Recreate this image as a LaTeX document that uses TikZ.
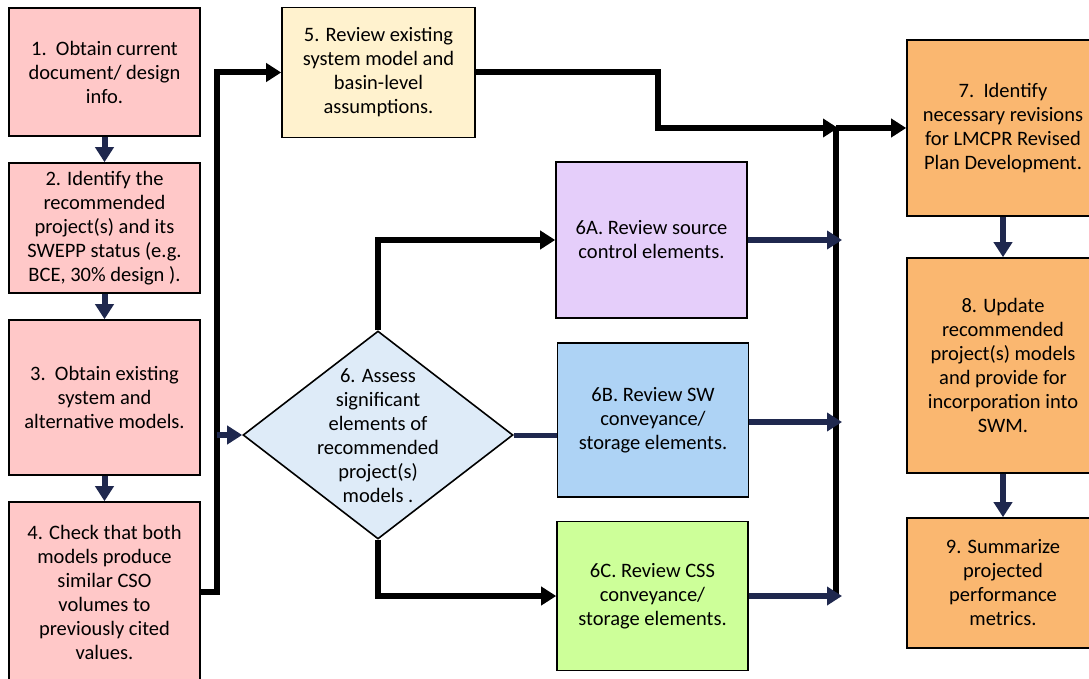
\documentclass[tikz,border=0pt]{standalone}
\usepackage{fontspec}
\setmainfont{Carlito}
\usetikzlibrary{arrows.meta,shapes.geometric,calc}
\definecolor{navy}{RGB}{31,40,78}
\definecolor{pinkbox}{RGB}{255,200,200}
\definecolor{creambox}{RGB}{255,242,206}
\definecolor{lavbox}{RGB}{229,206,250}
\definecolor{bluebox}{RGB}{174,211,245}
\definecolor{greenbox}{RGB}{205,255,153}
\definecolor{diabox}{RGB}{222,235,248}
\definecolor{orangebox}{RGB}{250,183,112}
\begin{document}
\begin{tikzpicture}[x=1pt,y=-1pt,
  txt/.style={align=center,font=\fontsize{20.5}{24}\selectfont,text=black},
  box/.style={txt,draw=black,line width=1.6pt,inner sep=0pt},
  blk/.style={draw=black,line width=6pt,-{Triangle[length=15pt,width=18pt]}},
  blkline/.style={draw=black,line width=6pt},
  nav/.style={draw=navy,line width=6pt,-{Triangle[length=15pt,width=18pt]}},
  navh/.style={draw=navy,line width=6pt,-{Triangle[length=15pt,width=18pt]}},
  navline/.style={draw=navy,line width=5pt}]
\clip (0,0) rectangle (1089,679);
\fill[white] (0,0) rectangle (1089,679);

% left column
\node[box,fill=pinkbox,minimum width=191pt,minimum height=128pt] (n1) at (104.5,72)
  {1.\ \ Obtain current\\document/ design\\info.};
\node[box,fill=pinkbox,minimum width=191pt,minimum height=130pt] (n2) at (104.5,228)
  {2. Identify the\\recommended\\project(s) and its\\SWEPP status (e.g.\\BCE, 30\% design ).};
\node[box,fill=pinkbox,minimum width=191pt,minimum height=155pt] (n3) at (104.5,397.5)
  {3.\ \ Obtain existing\\system and\\alternative models.};
\node[box,fill=pinkbox,minimum width=191pt,minimum height=180pt] (n4) at (104.5,592)
  {4. Check that both\\models produce\\similar CSO\\volumes to\\previously cited\\values.};

% step 5
\node[box,fill=creambox,minimum width=193pt,minimum height=130pt] (n5) at (378.5,72.5)
  {5. Review existing\\system model and\\basin-level\\assumptions.};

% diamond
\node[diamond,draw=black,line width=1.6pt,fill=diabox,minimum width=270pt,minimum height=208pt,inner sep=0pt] (d) at (378,435) {};
\node[txt] (dtext) at (378,436) {6. Assess\\significant\\elements of\\recommended\\project(s)\\models .};

% 6A-6C
\node[box,fill=lavbox,minimum width=191pt,minimum height=156pt] (a6) at (651.5,240)
  {6A. Review source\\control elements.};
\node[box,fill=bluebox,minimum width=191pt,minimum height=154pt] (b6) at (653,420)
  {6B. Review SW\\conveyance/\\storage elements.};
\node[box,fill=greenbox,minimum width=191pt,minimum height=149pt] (c6) at (652.5,596)
  {6C. Review CSS\\conveyance/\\storage elements.};

% right column
\node[box,fill=orangebox,minimum width=192pt,minimum height=176pt] (n7) at (1003,128)
  {7.\ \ Identify\\necessary revisions\\for LMCPR Revised\\Plan Development.};
\node[box,fill=orangebox,minimum width=192pt,minimum height=215pt] (n8) at (1003,365.5)
  {8. Update\\recommended\\project(s) models\\and provide for\\incorporation into\\SWM.};
\node[box,fill=orangebox,minimum width=192pt,minimum height=130pt] (n9) at (1003,583)
  {9. Summarize\\projected\\performance\\metrics.};

% coordinates
\coordinate (busL) at (217,435);
\coordinate (busR) at (836,128);
\coordinate (busRb) at (836,597);
\coordinate (k1) at (658,0);

% left column arrows
\draw[nav] (n1.south) -- (n2.north);
\draw[nav] (n2.south) -- (n3.north);
\draw[nav] (n3.south) -- (n4.north);

% left bus
\draw[blk] (n4.east) -| (busL |- n5.west) -- (n5.west);
\draw[navh] (busL) -- (d.west);

% diamond outputs
\draw[blk] (d.north) |- (a6.west);
\draw[blk] (d.south) |- (c6.west);
\draw[navline] (d.east) -- (d.east -| b6.west);

% right bus
\draw[blkline] (busR) -- (busRb);
\draw[navh,shorten >=-6pt] (a6.east) -- (a6.east -| busR);
\draw[navh,shorten >=-6pt] ($(b6.east)+(0,2)$) -- ($(b6.east -| busR)+(0,2)$);
\draw[navh,shorten >=-6pt] (c6.east) -- (c6.east -| busR);
\draw[blk,shorten >=-2pt] (n5.east) -| (k1 |- busR) -- (busR);
\draw[blk] (busR) -- (n7.west);

% right column arrows
\draw[nav] (n7.south) -- (n8.north);
\draw[nav] (n8.south) -- (n9.north);
\end{tikzpicture}
\end{document}
